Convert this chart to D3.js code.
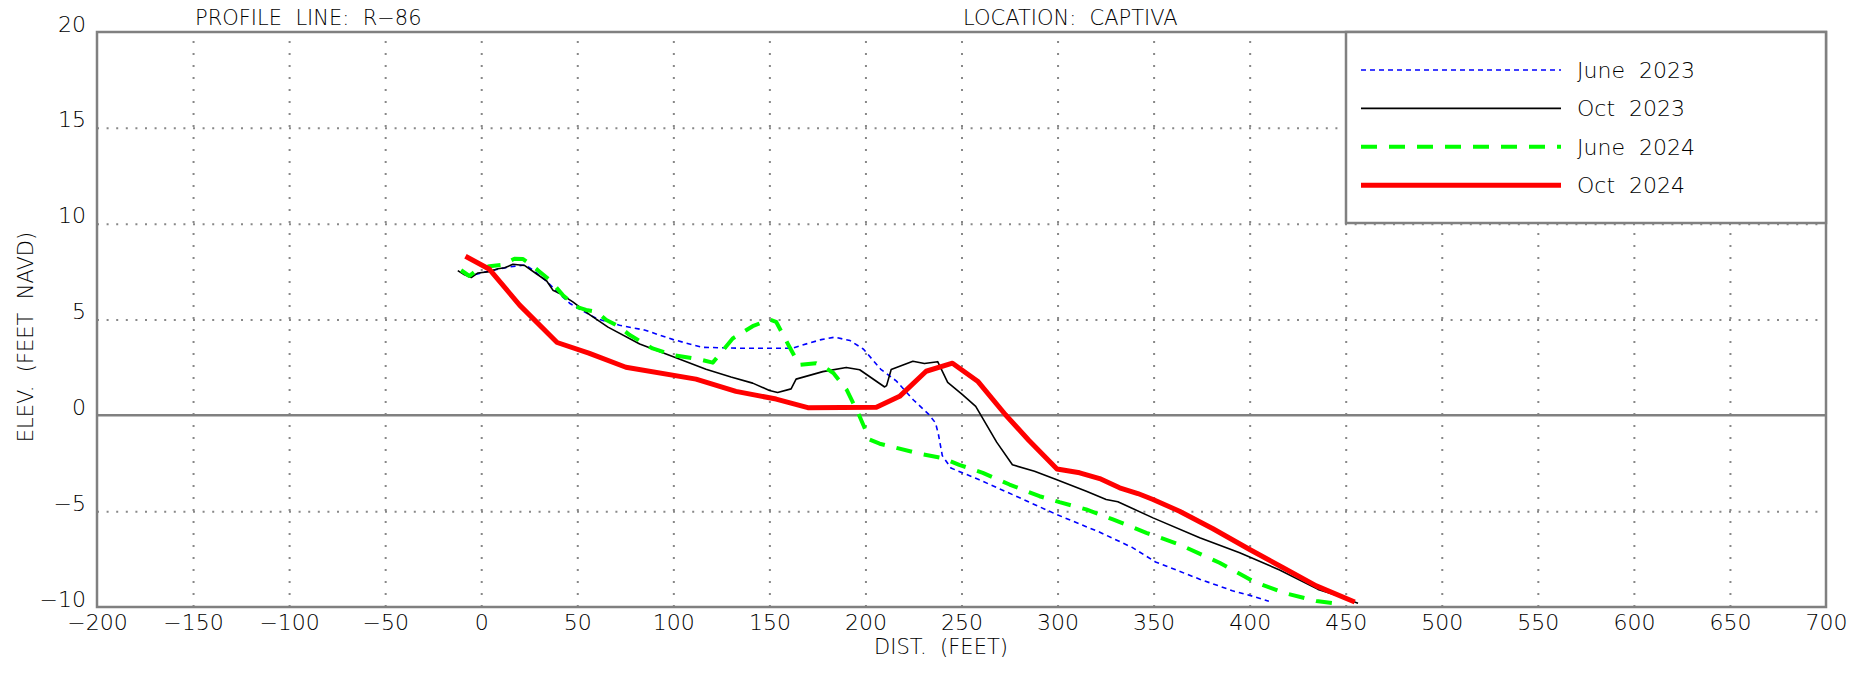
<!DOCTYPE html>
<meta charset="utf-8">
<style type="text/css">
  body { margin: 0; background: #fff; }
  svg { font-family: 'DejaVu Sans', sans-serif; font-weight: 200; background: #fff; }
  text { fill: #000; white-space: pre; }
  .tick text { font-size: 22px; fill: #000; }
</style>
<script src="https://d3js.org/d3.v7.min.js"></script>
<body>
<svg id="chart" width="1866" height="673"></svg>
<script>

// profile data: [distance (ft), elevation (ft NAVD)]
var june2023 = [[-3,7.35],[5,7.55],[15,7.75],[23,7.85],[28,7.5],[34,7.0],[40,6.4],[46,5.85],[52,5.5],[60,5.05],
  [72,4.7],[85,4.45],[100,3.95],[115,3.55],[135,3.5],[162,3.5],[170,3.75],[177,3.95],[184,4.08],[192,3.9],
  [199,3.45],[208,2.4],[216,1.8],[225,0.8],[233,0.05],[236.5,-0.4],[238,-1.0],[240,-2.1],[244.5,-2.75],
  [259,-3.35],[278,-4.2],[299,-5.15],[322,-6.1],[339,-6.9],[351,-7.65],[374,-8.55],[391,-9.15],[402,-9.45],[410,-9.7]];

var oct2023 = [[-12.2,7.55],[-8.7,7.33],[-5.2,7.19],[-1.7,7.43],[4.3,7.5],[8.7,7.65],[12.2,7.7],[16.5,7.88],
  [22.5,7.82],[28.5,7.4],[34,7.02],[37.3,6.53],[41,6.35],[47.7,5.92],[56.4,5.25],[66,4.6],[82.5,3.72],[100,3.06],
  [117,2.4],[130,2.0],[141.3,1.68],[150,1.3],[154.3,1.19],[161.3,1.38],[163.9,1.89],[177.8,2.28],[190,2.5],
  [197,2.38],[210,1.48],[211,1.55],[213.4,2.39],[224.7,2.82],[230.7,2.7],[237.6,2.8],[242.8,1.72],[250.5,1.08],
  [257.4,0.47],[268.3,-1.4],[276.5,-2.58],[288,-2.92],[299.3,-3.35],[315,-3.96],[325.3,-4.39],[331.4,-4.51],
  [349.7,-5.35],[374,-6.39],[394.8,-7.17],[415.6,-8.07],[435.6,-9.08],[445.1,-9.39],[456.4,-9.81]];

var june2024 = [[-10.5,7.57],[-6.2,7.27],[-2,7.6],[4.3,7.78],[11.2,7.86],[17.3,8.17],[21.6,8.16],[26.3,7.83],
  [30.4,7.49],[35.8,7.05],[42.5,6.27],[49.5,5.66],[54.6,5.5],[60.2,5.4],[65.1,4.97],[72,4.62],[77.1,4.2],
  [89.2,3.49],[99.7,3.15],[113.5,2.92],[120.5,2.75],[130.9,4.01],[141.3,4.65],[150,5.0],[153.5,4.88],
  [160.4,3.58],[165.6,2.63],[174.3,2.72],[179.5,2.46],[183.3,2.21],[190.2,1.34],[196.2,0.12],[202.2,-1.27],
  [207.4,-1.48],[228.1,-2.0],[240.2,-2.23],[248.8,-2.58],[261.1,-3.0],[275,-3.61],[290.6,-4.22],[301,-4.53],
  [314.9,-4.91],[328.8,-5.43],[346.2,-6.13],[363.5,-6.74],[384.3,-7.69],[401.7,-8.65],[417.4,-9.25],
  [434.7,-9.69],[447.7,-9.86]];

var oct2024 = [[-8.2,8.3],[4.3,7.62],[20,5.75],[39.5,3.8],[56,3.25],[75.3,2.51],[111.8,1.89],[132.6,1.25],
  [153.5,0.85],[170,0.4],[205.7,0.42],[217.8,0.99],[231.6,2.3],[245.3,2.72],[258.4,1.78],[272.9,0.03],
  [285,-1.3],[299.7,-2.8],[311.5,-3.0],[321.9,-3.3],[332.3,-3.78],[341.8,-4.08],[349.7,-4.39],[363.5,-5.0],
  [380.9,-5.92],[400,-7.0],[417.4,-7.95],[434.7,-8.9],[454.7,-9.74]];

var xTicks = [-200,-150,-100,-50,0,50,100,150,200,250,300,350,400,450,500,550,600,650,700];
var yTicks = [-10,-5,0,5,10,15,20];

var seriesNames = ["June  2023","Oct  2023","June  2024","Oct  2024"];
var seriesData = [june2023, oct2023, june2024, oct2024];
var seriesColor = ["#0000ff","#000000","#00ff00","#ff0000"];
var seriesWidth = [1.6, 1.6, 4, 5];
var seriesDash = ["5,4", null, "16,12", null];

var margin = {top: 32, right: 40, bottom: 66, left: 97},
    width = 1866 - margin.left - margin.right,
    height = 673 - margin.top - margin.bottom;

var svg = d3.select("#chart")
  .append("g")
  .attr("transform", `translate(${margin.left},${margin.top})`);

var x = d3.scaleLinear().domain([-200, 700]).range([0, width]);
var y = d3.scaleLinear().domain([-10, 20]).range([height, 0]);

// dotted grid
svg.append("g")
  .attr("transform", `translate(0,${height})`)
  .call(d3.axisBottom(x).tickValues(xTicks.slice(1, -1)).tickSize(-height).tickFormat(""))
  .call(g => g.select(".domain").remove())
  .selectAll("line")
    .attr("stroke", "#888").attr("stroke-width", 2).attr("stroke-dasharray", "2,10");

svg.append("g")
  .call(d3.axisLeft(y).tickValues(yTicks.filter(v => v != 0 && v != -10 && v != 20)).tickSize(-width).tickFormat(""))
  .call(g => g.select(".domain").remove())
  .selectAll("line")
    .attr("stroke", "#888").attr("stroke-width", 2).attr("stroke-dasharray", "2,7.6");

// zero line
svg.append("line")
  .attr("x1", 0).attr("x2", width)
  .attr("y1", y(0)).attr("y2", y(0))
  .attr("stroke", "#808080").attr("stroke-width", 2.5);

// tick labels
var xAxis = svg.append("g")
  .attr("transform", `translate(0,${height})`)
  .call(d3.axisBottom(x).tickValues(xTicks).tickSize(0).tickPadding(23))
  .attr("font-family", null).attr("font-size", null);
xAxis.select(".domain").remove();
xAxis.selectAll("text").attr("dy", 0);

var yAxis = svg.append("g")
  .call(d3.axisLeft(y).tickValues(yTicks).tickSize(0).tickPadding(11))
  .attr("font-family", null).attr("font-size", null);
yAxis.select(".domain").remove();
yAxis.selectAll("text").attr("dy", -1);

// profiles
var line = d3.line().x(d => x(d[0])).y(d => y(d[1]));

seriesData.forEach(function(data, i) {
  svg.append("path")
    .datum(data)
    .attr("fill", "none")
    .attr("stroke", seriesColor[i])
    .attr("stroke-width", seriesWidth[i])
    .attr("stroke-dasharray", seriesDash[i])
    .attr("stroke-linejoin", "round")
    .attr("d", line);
});

// frame
svg.append("rect")
  .attr("width", width).attr("height", height)
  .attr("fill", "none").attr("stroke", "#808080").attr("stroke-width", 2.5);

// legend
var legend = svg.append("g").attr("transform", `translate(${width - 480},0)`);
legend.append("rect")
  .attr("width", 480).attr("height", 191)
  .attr("fill", "#fff").attr("stroke", "#808080").attr("stroke-width", 2.5);

seriesNames.forEach(function(name, i) {
  var ly = 38 + i * 38.4;
  legend.append("line")
    .attr("x1", 15).attr("x2", 215)
    .attr("y1", ly).attr("y2", ly)
    .attr("stroke", seriesColor[i])
    .attr("stroke-width", seriesWidth[i])
    .attr("stroke-dasharray", seriesDash[i]);
  legend.append("text")
    .attr("x", 231).attr("y", ly + 8)
    .style("font-size", "22px")
    .text(name);
});

// titles
var root = d3.select("#chart");
root.append("text").attr("x", 195).attr("y", 25).style("font-size", "21px").text("PROFILE  LINE:  R\u221286");
root.append("text").attr("x", 963).attr("y", 25).style("font-size", "21px").text("LOCATION:  CAPTIVA");
root.append("text").attr("x", 941).attr("y", 654).attr("text-anchor", "middle").style("font-size", "21px").text("DIST.  (FEET)");
root.append("text")
  .attr("transform", "translate(33,337) rotate(-90)")
  .attr("text-anchor", "middle")
  .style("font-size", "21px")
  .text("ELEV.  (FEET  NAVD)");

</script>
</body>
